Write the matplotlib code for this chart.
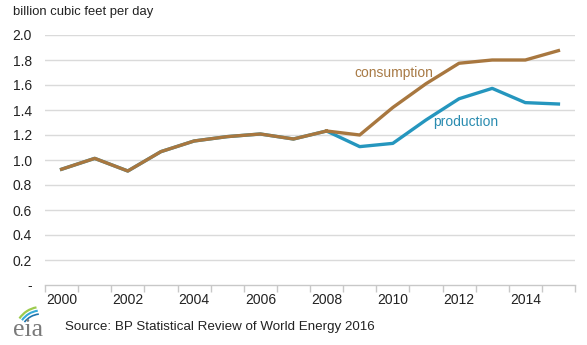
import matplotlib
matplotlib.use("Agg")
import matplotlib.pyplot as plt
import numpy as np
from matplotlib.patches import Arc

years = list(range(2000, 2016))
consumption = [0.926, 1.013, 0.912, 1.067, 1.152, 1.187, 1.208, 1.168, 1.232,
               1.200, 1.420, 1.610, 1.774, 1.800, 1.800, 1.875]
production = [0.926, 1.013, 0.912, 1.067, 1.152, 1.187, 1.208, 1.168, 1.232,
              1.107, 1.133, 1.320, 1.490, 1.573, 1.459, 1.448]
ytick_vals = [0.0, 0.2, 0.4, 0.6, 0.8, 1.0, 1.2, 1.4, 1.6, 1.8, 2.0]
ytick_labels = ["-", "0.2", "0.4", "0.6", "0.8", "1.0", "1.2", "1.4", "1.6", "1.8", "2.0"]
xtick_years = [2000, 2002, 2004, 2006, 2008, 2010, 2012, 2014]

plt.rcParams['font.family'] = ['Liberation Sans', 'DejaVu Sans']

W, H = 587, 345
fig = plt.figure(figsize=(W / 100, H / 100), dpi=100)
ax = fig.add_axes([45 / W, (H - 285) / H, (575 - 45) / W, (285 - 35) / H])

cons_col = "#A8773F"
prod_col = "#2596BE"
ax.plot(years, production, color=prod_col, lw=2.4, solid_joinstyle="round", zorder=3)
ax.plot(years[:9], consumption[:9], color=cons_col, lw=2.4, solid_joinstyle="round", zorder=4)
ax.plot(years[8:], consumption[8:], color=cons_col, lw=2.4, solid_joinstyle="round", zorder=4)

ax.set_xlim(1999.5, 2015.5)
ax.set_ylim(0, 2.0)
ax.set_yticks(ytick_vals)
ax.set_yticklabels(ytick_labels)
ax.set_xticks(xtick_years)
ax.set_xticklabels([str(y) for y in xtick_years])
ax.set_xticks(np.arange(1999.5, 2016, 1.0), minor=True)

for v in ytick_vals[1:]:
    ax.axhline(v, color="#DADADA", lw=1.0, zorder=1)

for s in ["top", "right", "left"]:
    ax.spines[s].set_visible(False)
ax.spines["bottom"].set_color("#C8C8C8")
ax.spines["bottom"].set_linewidth(1.0)

ax.tick_params(axis="y", length=0, pad=9.5, labelsize=10, labelcolor="#222222")
ax.tick_params(axis="x", which="major", length=0, pad=6, labelsize=10, labelcolor="#222222")
ax.tick_params(axis="x", which="minor", length=5, color="#C8C8C8", width=1)

ax.text(2010.04, 1.696, "consumption", color="#A87A45", fontsize=10, ha="center", va="center")
ax.text(2012.2, 1.306, "production", color="#2A8CB0", fontsize=10, ha="center", va="center")

fig.text(13 / W, 1 - 12 / H, "billion cubic feet per day", fontsize=9.4, color="#222222",
         ha="left", va="center")
fig.text(65 / W, 1 - 327 / H, "Source: BP Statistical Review of World Energy 2016",
         fontsize=9.6, color="#222222", ha="left", va="center")

# eia logo
fig.text(13 / W, 1 - 330 / H, "eia", fontsize=18.5, color="#7A7A7A", family="Liberation Serif",
         ha="left", va="center")
lax = fig.add_axes([0, 0, 1, 1], facecolor="none")
lax.set_xlim(0, W)
lax.set_ylim(0, H)
lax.axis("off")
lax.add_patch(Arc((41, H - 333), 52, 52, theta1=100, theta2=146, color="#9CCB4E", lw=1.6))
lax.add_patch(Arc((41, H - 334), 47, 47, theta1=98, theta2=144, color="#35A9D8", lw=1.5))
lax.add_patch(Arc((41, H - 335), 42, 42, theta1=96, theta2=142, color="#1F74AD", lw=1.2))

fig.savefig("out.png", dpi=100, facecolor="white")
